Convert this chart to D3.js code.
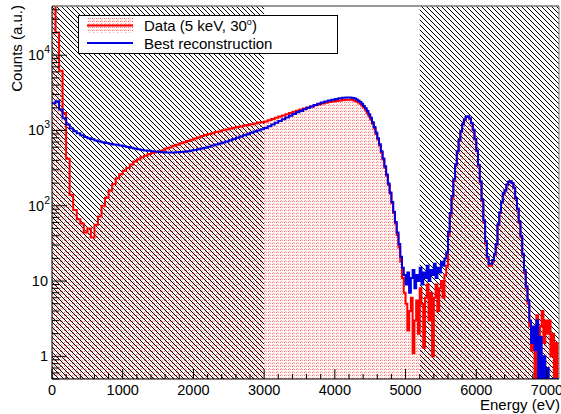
<!DOCTYPE html>
<html>
<head>
<meta charset="utf-8">
<script src="https://cdn.jsdelivr.net/npm/d3@7"></script>
<style>
  body { margin: 0; background: #fff; }
  svg { display: block; font-family: "Liberation Sans", Arial, sans-serif; }
</style>
</head>
<body>
<svg id="svg" width="561" height="414"></svg>
<script>
// 50 eV bins from 0 to 4200 eV, then 25 eV bins up to 7200 eV
const lowBinWidth = 50
const splitEnergy = 4200
const highBinWidth = 25

const dataLow = [
  60000, 20000, 6200, 1700, 420, 140, 88, 66, 58, 44,
  50, 38, 56, 72, 100, 128, 160, 195, 232, 262,
  292, 318, 352, 388, 412, 440, 462, 488, 502, 516,
  530, 548, 575, 596, 626, 648, 676, 698, 726, 752,
  782, 806, 842, 868, 898, 916, 952, 972, 1004, 1028,
  1062, 1086, 1112, 1128, 1164, 1178, 1212, 1236, 1272, 1290,
  1318, 1372, 1418, 1474, 1528, 1584, 1636, 1702, 1768, 1834,
  1896, 1962, 2016, 2088, 2156, 2216, 2280, 2336, 2388, 2430,
  2468, 2506, 2538, 2560
]
const dataHigh = [
  2565, 2550, 2520, 2480, 2420, 2350, 2260, 2150, 2020, 1880,
  1720, 1560, 1400, 1230, 1060, 900, 760, 630, 510, 410,
  320, 250, 190, 145, 108, 80, 58, 41, 28, 18,
  11, 7,
  5, 2.2, 4, 6, 1.1, 3, 5.5, 2, 8, 5,
  1.3, 6, 9, 3, 7, 1.0, 6, 9, 4, 8,
  10, 6, 12, 16,
  40, 72, 124, 214, 345, 521, 736, 972, 1200, 1390,
  1505, 1525, 1435, 1250, 1010, 760, 530, 340, 205, 115,
  60, 32, 20, 16,
  16, 18, 22, 30, 55, 80, 110, 145, 160, 190,
  208, 214, 199, 172, 125, 90, 60, 38, 22, 13,
  8, 5, 2.5, 1.2,
  2, 0, 3.5, 1.2, 2.5, 4, 1.5, 3, 2, 3,
  1, 2, 0, 1.5, 0, 0
]

const recoLow = [
  2300, 2450, 1900, 1450, 1200, 1060, 980, 915, 862, 818,
  790, 762, 735, 714, 700, 681, 666, 652, 644, 630,
  618, 602, 588, 576, 563, 552, 544, 536, 528, 524,
  519, 514, 510, 511, 509, 514, 518, 523, 530, 540,
  550, 562, 576, 590, 609, 630, 650, 671, 690, 716,
  740, 770, 800, 830, 862, 894, 930, 966, 1002, 1040,
  1080, 1140, 1200, 1270, 1340, 1410, 1490, 1570, 1650, 1740,
  1820, 1910, 2000, 2080, 2180, 2260, 2350, 2430, 2500, 2560,
  2620, 2670, 2710, 2740
]
const recoHigh = [
  2745, 2730, 2700, 2650, 2580, 2490, 2380, 2260, 2120, 1970,
  1810, 1640, 1470, 1290, 1110, 940, 790, 655, 530, 425,
  335, 260, 198, 150, 112, 83, 61, 44, 31, 21,
  15, 12,
  9, 13, 7, 11, 14, 8, 12, 10, 15, 9,
  13, 11, 16, 10, 14, 12, 17, 11, 15, 13,
  18, 16, 20, 24,
  45, 80, 135, 225, 355, 530, 745, 980, 1210, 1400,
  1515, 1540, 1450, 1260, 1020, 770, 540, 350, 212, 120,
  64, 34, 21, 17,
  17, 19, 23, 31, 57, 82, 112, 148, 162, 192,
  208, 212, 200, 173, 127, 92, 62, 40, 23, 14,
  8.5, 5.5, 3, 1.5,
  2.5, 1.2, 3, 0, 1.8, 0, 1, 0, 0.7, 0,
  0, 0, 0, 0, 0, 0
]

const xTicks = [0, 1000, 2000, 3000, 4000, 5000, 6000, 7000]
const yTicks = [1, 10, 100, 1000, 10000]
const hatchRanges = [[0, 3000], [5200, 7170]]

const mLeft = 52
const mRight = 559
const mTop = 6
const mBottom = 379

const x = d3.scaleLinear().domain([0, 7170]).range([mLeft, mRight])
const y = d3.scaleLog().domain([0.5, 45000]).range([mBottom, mTop]).clamp(true)

const toBins = (low, high) => {
  const pts = low.map((c, i) => ({ e: i * lowBinWidth, c }))
  high.forEach((c, i) => pts.push({ e: splitEnergy + i * highBinWidth, c }))
  pts.push({ e: splitEnergy + high.length * highBinWidth, c: high[high.length - 1] })
  return pts
}
const yv = (c) => y(Math.max(c, 0.01))

const svg = d3.select('#svg')
const defs = svg.append('defs')

defs.append('clipPath').attr('id', 'plot')
  .append('rect')
  .attr('x', mLeft).attr('y', mTop)
  .attr('width', mRight - mLeft).attr('height', mBottom - mTop)

// ROOT-like dotted fill
const dots = defs.append('pattern').attr('id', 'dots')
  .attr('patternUnits', 'userSpaceOnUse')
  .attr('width', 4).attr('height', 3)
dots.append('rect').attr('width', 4).attr('height', 3).attr('fill', '#fff6f6')
dots.append('rect').attr('x', 0).attr('y', 0).attr('width', 1).attr('height', 1).attr('fill', '#f66')
dots.append('rect').attr('x', 2).attr('y', 0).attr('width', 1).attr('height', 1).attr('fill', '#f99')
dots.append('rect').attr('x', 1).attr('y', 2).attr('width', 1).attr('height', 1).attr('fill', '#faa')

// hatch \\\
const hatch = defs.append('pattern').attr('id', 'hatch')
  .attr('patternUnits', 'userSpaceOnUse')
  .attr('width', 5).attr('height', 5)
hatch.append('path')
  .attr('d', 'M0,0L5,5M-1,4L1,6M4,-1L6,1')
  .attr('stroke', '#000').attr('stroke-width', 1)

const plot = svg.append('g').attr('clip-path', 'url(#plot)')

const area = d3.area()
  .x(d => x(d.e))
  .y0(mBottom)
  .y1(d => yv(d.c))
  .curve(d3.curveStepAfter)

const line = d3.line()
  .x(d => x(d.e))
  .y(d => yv(d.c))
  .curve(d3.curveStepAfter)

const dataBins = toBins(dataLow, dataHigh)
const recoBins = toBins(recoLow, recoHigh)

plot.append('path')
  .attr('d', area(dataBins))
  .attr('fill', 'url(#dots)')

plot.selectAll('rect.hatch')
  .data(hatchRanges)
  .join('rect')
  .attr('class', 'hatch')
  .attr('x', d => x(d[0]))
  .attr('y', mTop)
  .attr('width', d => x(d[1]) - x(d[0]))
  .attr('height', mBottom - mTop)
  .attr('fill', 'url(#hatch)')

plot.append('path')
  .attr('d', line(dataBins))
  .attr('fill', 'none')
  .attr('stroke', '#ff0000')
  .attr('stroke-width', 2)

plot.append('path')
  .attr('d', line(recoBins))
  .attr('fill', 'none')
  .attr('stroke', '#0000e0')
  .attr('stroke-width', 2)

// frame
svg.append('line')
  .attr('x1', mLeft).attr('x2', mRight).attr('y1', mTop).attr('y2', mTop)
  .attr('stroke', '#777').attr('stroke-width', 1.5)
svg.append('line')
  .attr('x1', mRight).attr('x2', mRight).attr('y1', mTop).attr('y2', mBottom)
  .attr('stroke', '#777').attr('stroke-width', 1)

// x axis, ticks pointing inside
const xAxis = svg.append('g')
xAxis.append('line')
  .attr('x1', mLeft).attr('x2', mRight).attr('y1', mBottom).attr('y2', mBottom)
  .attr('stroke', '#000')
const xMinor = d3.range(0, 7170, 200)
xAxis.selectAll('line.minor')
  .data(xMinor)
  .join('line')
  .attr('class', 'minor')
  .attr('x1', d => x(d)).attr('x2', d => x(d))
  .attr('y1', mBottom).attr('y2', d => mBottom - (d % 1000 === 0 ? 10 : 5))
  .attr('stroke', '#000')
xAxis.selectAll('text')
  .data(xTicks)
  .join('text')
  .attr('x', d => x(d))
  .attr('y', 395)
  .attr('text-anchor', 'middle')
  .attr('font-size', 14.5)
  .text(d => d)

// y axis
const yAxis = svg.append('g')
yAxis.append('line')
  .attr('x1', mLeft).attr('x2', mLeft).attr('y1', mTop).attr('y2', mBottom)
  .attr('stroke', '#000')
const yMinor = []
for (const p of [0.1, 1, 10, 100, 1000, 10000]) {
  for (let k = 1; k < 10; k++) {
    const v = p * k
    if (v >= 0.5 && v <= 45000) yMinor.push(v)
  }
}
yAxis.selectAll('line.minor')
  .data(yMinor)
  .join('line')
  .attr('class', 'minor')
  .attr('x1', mLeft)
  .attr('x2', d => mLeft + (yTicks.includes(Math.round(d * 100) / 100) ? 15 : 7.5))
  .attr('y1', d => y(d)).attr('y2', d => y(d))
  .attr('stroke', '#000')

const yLab = yAxis.selectAll('text')
  .data(yTicks)
  .join('text')
  .attr('y', d => y(d) + 5)
  .attr('font-size', 14.5)
yLab.each(function (d) {
  const t = d3.select(this)
  const exp = Math.round(Math.log10(d))
  if (exp <= 1) {
    t.attr('x', 48).attr('text-anchor', 'end').text(d)
  } else {
    t.attr('x', 28).attr('text-anchor', 'start')
    t.append('tspan').text('10')
    t.append('tspan').attr('font-size', 10.5).attr('dy', -7).text(exp)
  }
})

// axis titles
svg.append('text')
  .attr('transform', 'translate(22,5) rotate(-90)')
  .attr('text-anchor', 'end')
  .attr('font-size', 15)
  .text('Counts (a.u.)')

svg.append('text')
  .attr('x', 560)
  .attr('y', 410)
  .attr('text-anchor', 'end')
  .attr('font-size', 15)
  .text('Energy (eV)')

// legend
const legend = svg.append('g')
legend.append('rect')
  .attr('x', 78.5).attr('y', 15.5)
  .attr('width', 259).attr('height', 38)
  .attr('fill', '#fff').attr('stroke', '#000')
legend.append('rect')
  .attr('x', 87).attr('y', 18)
  .attr('width', 46).attr('height', 15)
  .attr('fill', 'url(#dots)')
legend.append('line')
  .attr('x1', 87).attr('x2', 133).attr('y1', 25.5).attr('y2', 25.5)
  .attr('stroke', '#ff0000').attr('stroke-width', 2)
legend.append('line')
  .attr('x1', 87).attr('x2', 133).attr('y1', 43).attr('y2', 43)
  .attr('stroke', '#0000e0').attr('stroke-width', 2)
const t1 = legend.append('text')
  .attr('x', 144).attr('y', 31)
  .attr('font-size', 15)
t1.append('tspan').text('Data (5 keV, 30')
t1.append('tspan').attr('font-size', 9).attr('dy', -6).text('o')
t1.append('tspan').attr('dy', 6).text(')')
legend.append('text')
  .attr('x', 144).attr('y', 48.5)
  .attr('font-size', 15)
  .text('Best reconstruction')
</script>
</body>
</html>
